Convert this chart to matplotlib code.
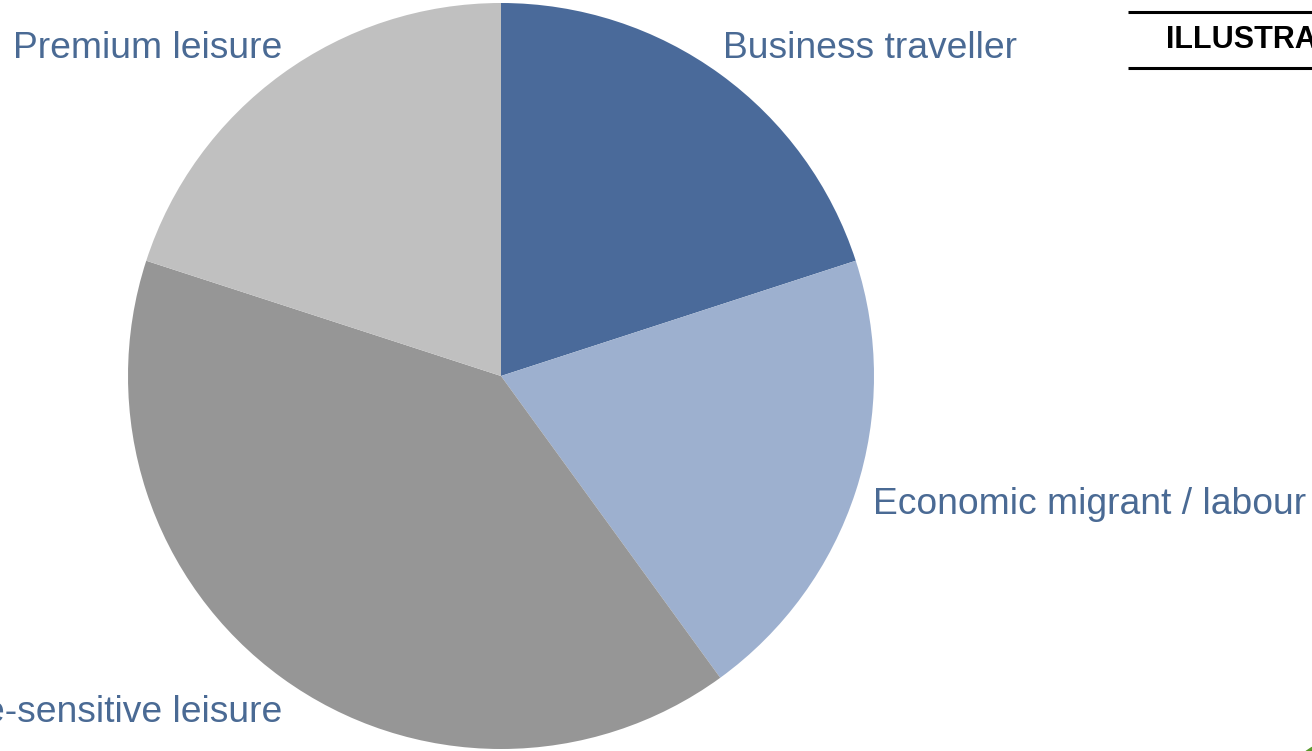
import matplotlib
matplotlib.use("Agg")
from matplotlib import pyplot as plt
from matplotlib.patches import Circle

plt.rcParams['font.family'] = ['Liberation Sans', 'DejaVu Sans']

# traveller segments, clockwise from 12 o'clock
segments = ['Business traveller', 'Economic migrant / labour',
            'Price-sensitive leisure', 'Premium leisure']
shares = [20, 20, 40, 20]
colors = ['#4A6A9A', '#9DB0CF', '#969696', '#C0C0C0']
label_color = '#4A6A94'

W, H = 1312, 751
fig = plt.figure(figsize=(W / 100, H / 100), dpi=100)
ax = fig.add_axes([0, 0, 1, 1])

cx, cy, r = 501, H - 376, 373
ax.pie(shares, colors=colors, startangle=90, counterclock=False,
       center=(cx, cy), radius=r, frame=True,
       wedgeprops=dict(linewidth=0))
ax.set_xlim(0, W)
ax.set_ylim(0, H)
ax.set_aspect('equal')
ax.axis('off')

# category labels around the pie
label_pos = [(723, H - 48, 'left'), (873, H - 505, 'left'),
             (282, H - 712, 'right'), (282, H - 48, 'right')]
for name, (x, y, ha) in zip(segments, label_pos):
    ax.text(x, y, name, fontsize=26.8, color=label_color, ha=ha, va='center')

# "illustrative" banner in the top right
ax.plot([1128, W], [H - 12, H - 12], color='black', lw=2.2, solid_capstyle='butt')
ax.plot([1128, W], [H - 68, H - 68], color='black', lw=2.2, solid_capstyle='butt')
ax.text(1166, H - 40, 'ILLUSTRATIVE', fontsize=22, fontweight='bold',
        color='black', ha='left', va='center')

# corner logo
ax.add_patch(Circle((1340, -45), 56, color='#5A9A2E'))
ax.add_patch(Circle((1340, -45), 50, color='#4A90C8'))

fig.savefig('out.png', dpi=100)
